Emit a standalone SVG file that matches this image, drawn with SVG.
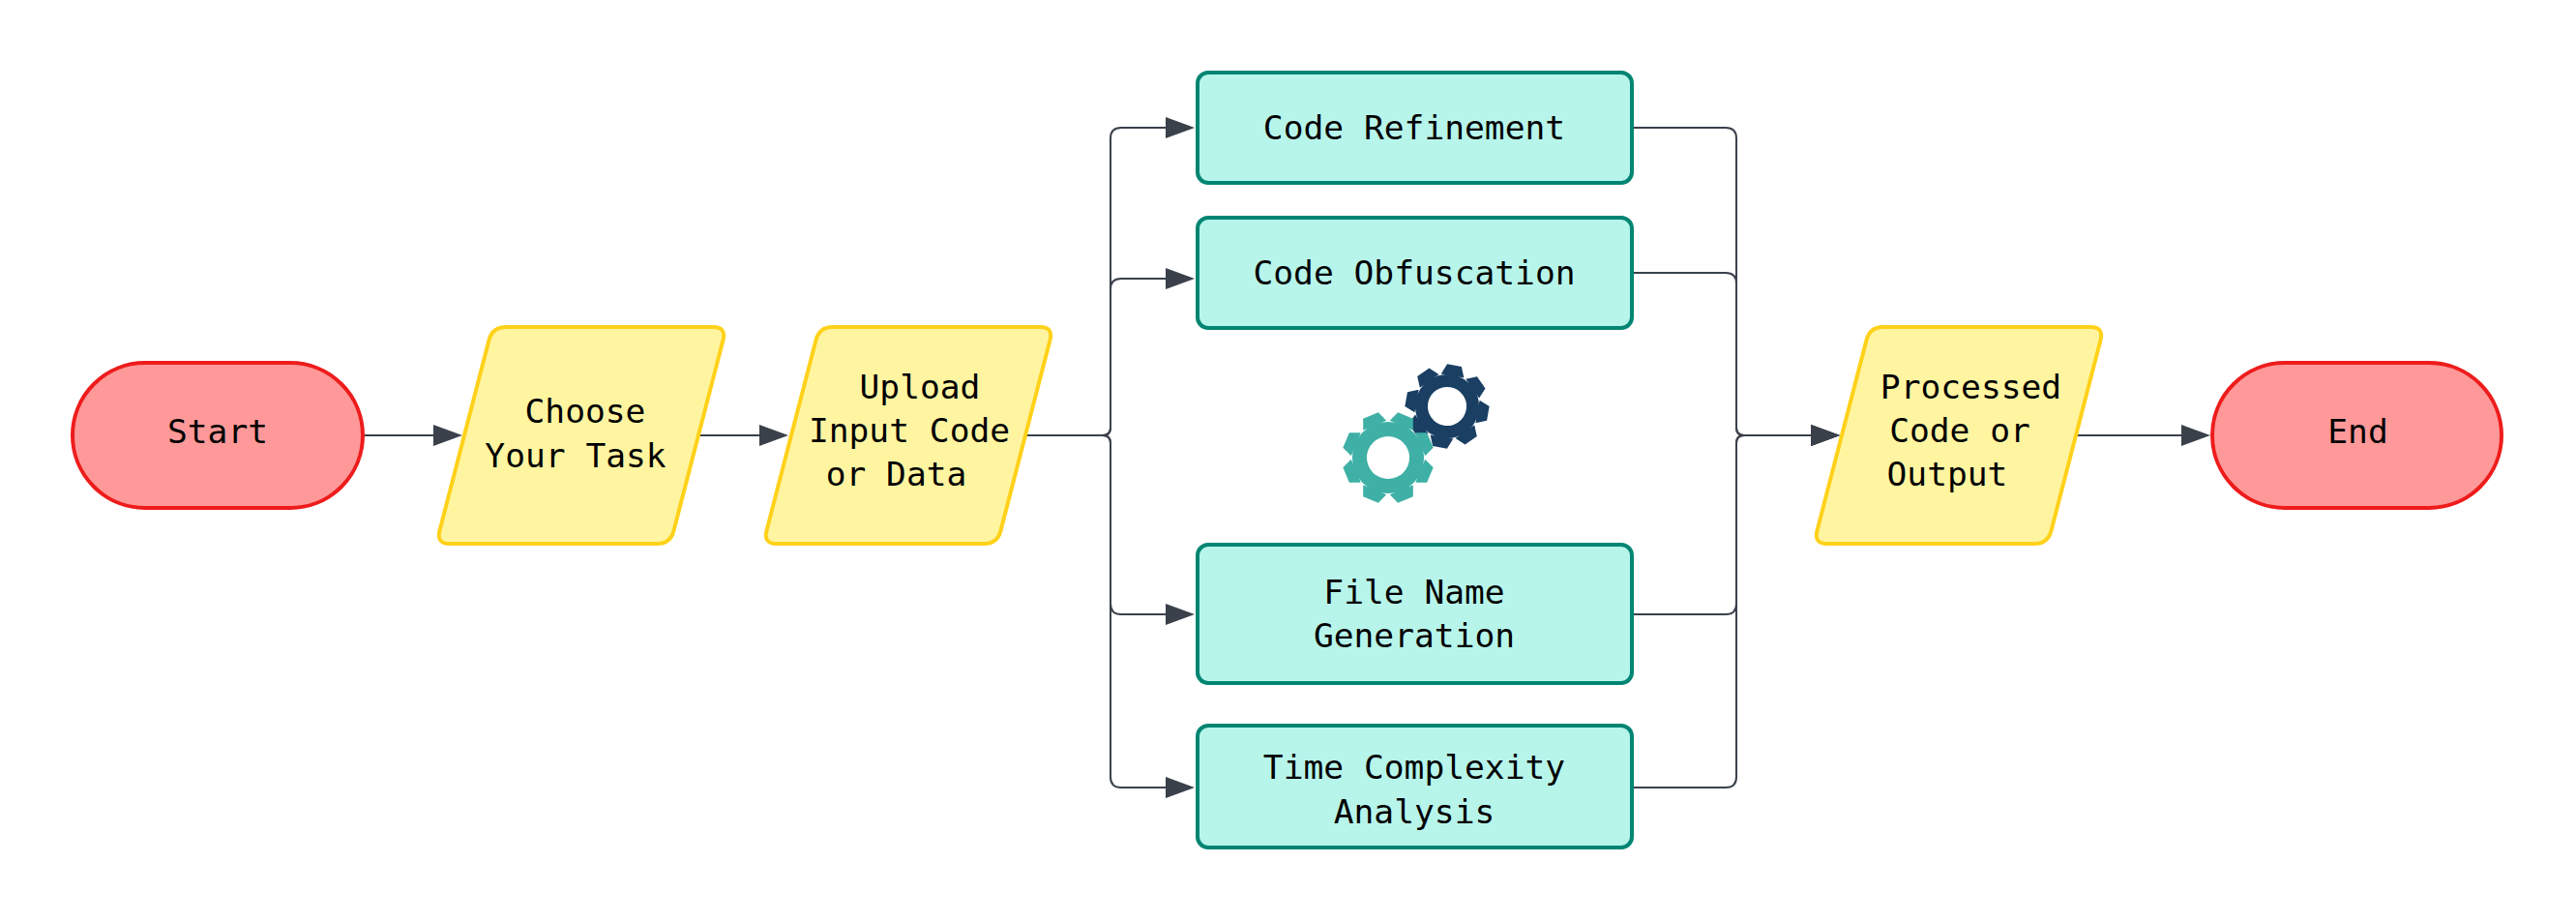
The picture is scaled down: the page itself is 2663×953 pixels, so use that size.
<svg xmlns="http://www.w3.org/2000/svg" xmlns:xlink="http://www.w3.org/1999/xlink" width="2663" height="953" viewBox="0 0 2663 953">
<style>
text{font-family:"DejaVu Sans Mono","Liberation Mono",monospace;font-size:34.6px;fill:#000;text-anchor:middle}
.t{fill:#ff9999;stroke:#ee1c1c;stroke-width:4}
.p{fill:#fff5a1;stroke:#ffd11a;stroke-width:4}
.r{fill:#b7f5eb;stroke:#008573;stroke-width:4}
.c{fill:none;stroke:#3a414b;stroke-width:2}
.a{marker-end:url(#arrow)}
</style>
<defs>
<marker id="arrow" markerUnits="userSpaceOnUse" viewBox="0 0 30 22" refX="0" refY="11" markerWidth="30" markerHeight="22" orient="auto"><path d="M0 0L30 11L0 22Z" fill="#3a414b"/></marker>
<path id="para" d="M523 338H737Q751 338 747.5 351.6L696.5 548.4Q693 562 679 562H465Q451 562 454.5 548.4L505.5 351.6Q509 338 523 338Z"/>
<polygon id="toothA" points="-13,-36 -8.5,-47 8.5,-47 13,-36"/>
<polygon id="toothB" points="-12,-32 -7.5,-43 7.5,-43 12,-32"/>
</defs>
<rect width="2663" height="953" fill="#fff"/>
<g id="connectors">
<path class="c a" d="M376 450H448"/>
<path class="c a" d="M721 450H785"/>
<path class="c a" d="M1059 450H1140Q1148 450 1148 442V143Q1148 132 1159 132H1205"/>
<path class="c a" d="M1059 450H1140Q1148 450 1148 442V299Q1148 288 1159 288H1205"/>
<path class="c a" d="M1059 450H1140Q1148 450 1148 458V624Q1148 635 1159 635H1205"/>
<path class="c a" d="M1059 450H1140Q1148 450 1148 458V803Q1148 814 1159 814H1205"/>
<path class="c a" d="M1689 132H1784Q1795 132 1795 143V442Q1795 450 1803 450H1872"/>
<path class="c a" d="M1689 282H1784Q1795 282 1795 293V442Q1795 450 1803 450H1872"/>
<path class="c a" d="M1689 635H1784Q1795 635 1795 624V458Q1795 450 1803 450H1872"/>
<path class="c a" d="M1689 814H1784Q1795 814 1795 803V458Q1795 450 1803 450H1872"/>
<path class="c a" d="M2145 450H2255"/>
</g>
<g id="start"><rect class="t" x="75" y="375" width="300" height="150" rx="75"/><text x="225" y="458">Start</text></g>
<g id="choose"><use href="#para" class="p"/><text x="605" y="437">Choose</text><text x="595" y="483">Your Task</text></g>
<g id="upload"><use href="#para" class="p" x="338"/><text x="951" y="412">Upload</text><text x="940" y="457">Input Code</text><text x="926.5" y="502">or Data</text></g>
<g id="refine"><rect class="r" x="1238" y="75" width="449" height="114" rx="11"/><text x="1462" y="144">Code Refinement</text></g>
<g id="obfus"><rect class="r" x="1238" y="225" width="449" height="114" rx="11"/><text x="1462" y="294">Code Obfuscation</text></g>
<g id="filename"><rect class="r" x="1238" y="563" width="449" height="143" rx="11"/><text x="1462" y="624">File Name</text><text x="1462" y="669">Generation</text></g>
<g id="complexity"><rect class="r" x="1238" y="750" width="449" height="126" rx="11"/><text x="1462" y="805">Time Complexity</text><text x="1462" y="851">Analysis</text></g>
<g id="output"><use href="#para" class="p" x="1424"/><text x="2037.5" y="412">Processed</text><text x="2026" y="457">Code or</text><text x="2013" y="502">Output</text></g>
<g id="end"><rect class="t" x="2287" y="375" width="299" height="150" rx="75"/><text x="2437.5" y="458">End</text></g>
<g id="gear-dark" fill="#1a3f63" transform="translate(1496 420) rotate(10)">
<circle r="26.5" fill="none" stroke="#1a3f63" stroke-width="13"/>
<use href="#toothB"/><use href="#toothB" transform="rotate(45)"/><use href="#toothB" transform="rotate(90)"/><use href="#toothB" transform="rotate(135)"/><use href="#toothB" transform="rotate(180)"/><use href="#toothB" transform="rotate(225)"/><use href="#toothB" transform="rotate(270)"/><use href="#toothB" transform="rotate(315)"/>
</g>
<g id="gear-teal" fill="#3fb0a6" transform="translate(1435 473) rotate(22.5)">
<circle r="29.5" fill="none" stroke="#3fb0a6" stroke-width="15"/>
<use href="#toothA"/><use href="#toothA" transform="rotate(45)"/><use href="#toothA" transform="rotate(90)"/><use href="#toothA" transform="rotate(135)"/><use href="#toothA" transform="rotate(180)"/><use href="#toothA" transform="rotate(225)"/><use href="#toothA" transform="rotate(270)"/><use href="#toothA" transform="rotate(315)"/>
</g>
</svg>
